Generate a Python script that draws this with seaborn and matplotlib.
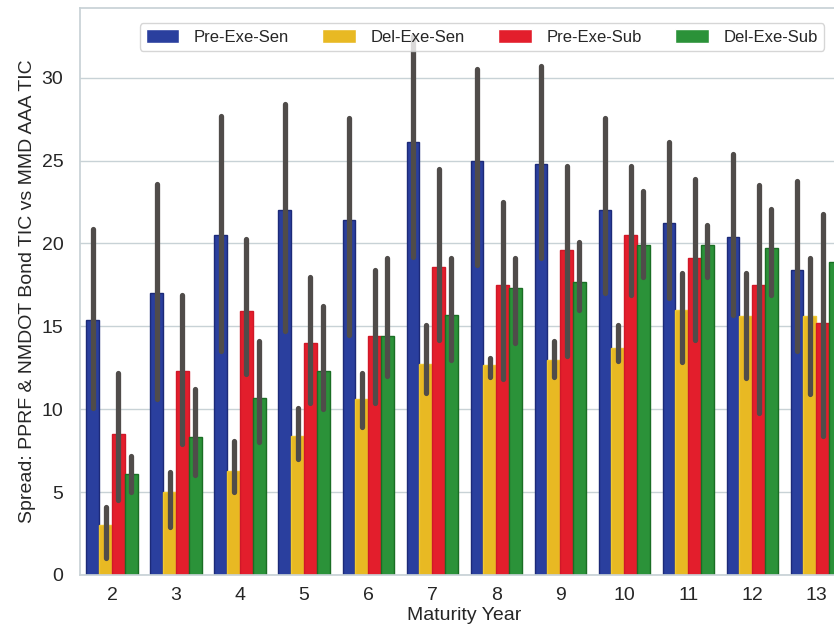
import numpy as np
import pandas as pd
import seaborn as sns
import matplotlib.pyplot as plt

# values
years = [2, 3, 4, 5, 6, 7, 8, 9, 10, 11, 12, 13]
groups = ['Pre-Exe-Sen', 'Del-Exe-Sen', 'Pre-Exe-Sub', 'Del-Exe-Sub']

pre_sen = [15.4, 17.0, 20.5, 22.0, 21.4, 26.1, 25.0, 24.8, 22.0, 21.25, 20.4, 18.4]
pre_sen_lo = [10.1, 10.6, 13.5, 14.7, 14.5, 19.2, 18.7, 19.1, 17.0, 16.7, 15.7, 13.5]
pre_sen_hi = [20.9, 23.6, 27.7, 28.4, 27.6, 32.5, 30.5, 30.7, 27.6, 26.1, 25.4, 23.8]

del_sen = [3.0, 5.0, 6.3, 8.4, 10.6, 12.7, 12.65, 12.95, 13.7, 16.0, 15.6, 15.6]
del_sen_lo = [1.0, 2.9, 5.0, 7.0, 8.9, 11.0, 11.95, 11.95, 12.9, 12.85, 11.9, 10.9]
del_sen_hi = [4.1, 6.2, 8.1, 10.1, 12.2, 15.1, 13.1, 14.1, 15.1, 18.2, 18.2, 19.1]

pre_sub = [8.5, 12.3, 15.9, 14.0, 14.4, 18.6, 17.5, 19.6, 20.5, 19.1, 17.5, 15.2]
pre_sub_lo = [4.5, 7.9, 12.1, 10.4, 10.4, 14.2, 11.8, 13.2, 16.9, 14.2, 9.8, 8.4]
pre_sub_hi = [12.2, 16.9, 20.3, 18.0, 18.4, 24.5, 22.5, 24.65, 24.65, 23.9, 23.55, 21.75]

del_sub = [6.1, 8.3, 10.7, 12.3, 14.4, 15.7, 17.3, 17.7, 19.9, 19.9, 19.7, 18.9]
del_sub_lo = [5.0, 6.0, 8.0, 10.0, 12.0, 12.95, 14.0, 16.0, 18.0, 18.0, 16.9, 16.5]
del_sub_hi = [7.2, 11.2, 14.1, 16.2, 19.1, 19.1, 19.1, 20.1, 23.15, 21.1, 22.1, 21.5]

means = [pre_sen, del_sen, pre_sub, del_sub]
lows = [pre_sen_lo, del_sen_lo, pre_sub_lo, del_sub_lo]
highs = [pre_sen_hi, del_sen_hi, pre_sub_hi, del_sub_hi]

colors = ['#2a3f9e', '#e8b923', '#e31e2c', '#2b9239']
edges = ['#1c2a78', '#f0c830', '#d01828', '#1a6e24']

df = pd.DataFrame({
    'Maturity Year': np.tile(years, len(groups)),
    'Spread': np.concatenate(means),
    'Type': np.repeat(groups, len(years)),
})

sns.set_theme(style='whitegrid')
plt.rcParams['font.family'] = ['Liberation Sans', 'DejaVu Sans']

fig = plt.figure(figsize=(8.34, 6.29), dpi=100)
# the original image is cropped on the right, so the axes runs past the edge
ax = fig.add_axes([0.096, 0.086, 0.921, 0.901])

sns.barplot(data=df, x='Maturity Year', y='Spread', hue='Type', hue_order=groups,
            palette=colors, saturation=1, errorbar=None, width=0.8, ax=ax)

# bar edges and error lines at each bar's centre
for i, cont in enumerate(ax.containers):
    xs = []
    for bar in cont:
        bar.set_edgecolor(edges[i])
        bar.set_linewidth(1.0)
        xs.append(bar.get_x() + bar.get_width() / 2)
    ax.vlines(xs, lows[i], highs[i], colors='#504c4a', linewidth=3.8,
              capstyle='round', zorder=3)

ax.set_xlim(-0.5, len(years) - 0.5)
ax.set_ylim(0, 34.2)
ax.set_yticks([0, 5, 10, 15, 20, 25, 30])
ax.tick_params(axis='x', labelsize=14, pad=3)
ax.tick_params(axis='y', labelsize=14, pad=6)
ax.set_xlabel('Maturity Year', fontsize=14, labelpad=2)
ax.set_ylabel('Spread: PPRF & NMDOT Bond TIC vs MMD AAA TIC', fontsize=14)
ax.grid(axis='y', color='#c8d2d6', linewidth=1.0)
ax.grid(axis='x', visible=False)
for s in ax.spines.values():
    s.set_color('#c8d2d6')

ax.legend(loc='upper right', bbox_to_anchor=(0.998, 0.976), bbox_transform=fig.transFigure,
          ncol=4, fontsize=12, frameon=True, handletextpad=0.9, columnspacing=2.0,
          handleheight=0.9, borderpad=0.35)

plt.savefig('out.png', dpi=100)
